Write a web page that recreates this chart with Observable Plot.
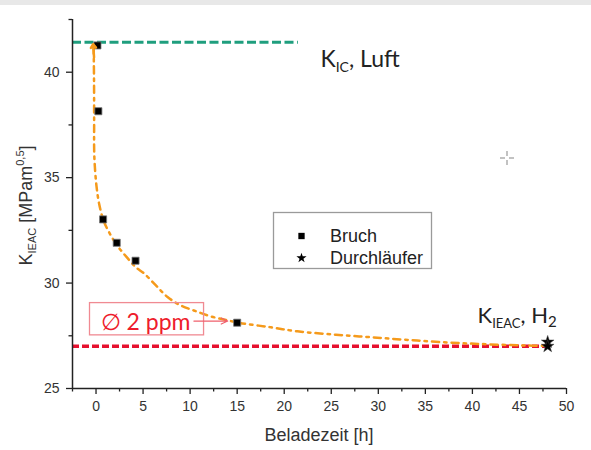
<!DOCTYPE html>
<html><head><meta charset="utf-8">
<script src="https://cdn.jsdelivr.net/npm/d3@7"></script>
<script src="https://cdn.jsdelivr.net/npm/@observablehq/plot@0.6"></script>
<style>
body{margin:0;background:#fff;}
#topbar{height:5px;background:#e8e8e8;}
#wrap{position:relative;width:591px;height:445px;}
</style></head><body>
<div id="topbar"></div><div id="wrap"></div>
<script>
// Data
const bruchX = [0.15, 0.25, 0.75, 2.2, 4.2, 15.0];
const bruchY = [41.27, 38.15, 33.02, 31.91, 31.06, 28.12];
const durchX = [48, 48];
const durchY = [27.2, 27.0];
const fitX = [-0.25, -0.21, -0.2, -0.18, 0.05, 0.34, 0.82, 1.56, 2.3, 3.26, 4.2, 5.07, 6.34, 7.6, 9.0, 10.4, 12.2, 14.0, 15.3, 18.6, 21.4, 25.5, 29.2, 32.9, 36.6, 40.9, 45.5, 48.0];
const fitY = [41.2, 39.5, 37.7, 36.0, 34.6, 33.74, 32.94, 32.27, 31.75, 31.23, 30.76, 30.47, 29.9, 29.34, 28.94, 28.7, 28.42, 28.23, 28.11, 27.9, 27.71, 27.55, 27.43, 27.31, 27.2, 27.11, 27.04, 27.02];
const kicLevel = [41.42];
const kicRange = [-2.5, 21.5];
const kieacLevel = [27.0];
const kieacRange = [-2.5, 48];
const xTicks = [0, 5, 10, 15, 20, 25, 30, 35, 40, 45, 50];
const xMinor = [-2.5, 2.5, 7.5, 12.5, 17.5, 22.5, 27.5, 32.5, 37.5, 42.5, 47.5];
const yTicks = [25, 30, 35, 40];
const yMinor = [27.5, 32.5, 37.5, 42.5];
const legendLabels = ["Bruch", "Durchläufer"];
const xLabel = "Beladezeit [h]";
// annotation anchors (data units)
const upArrow = {x1: -0.21, y1: 40.7, x2: -0.3, y2: 41.33};
const ppmArrow = {x1: 10.4, y1: 28.2, x2: 14.0, y2: 28.2};
const ppmBox = {x1: -0.64, x2: 11.48, y1: 27.52, y2: 29.05};
const ppmText = {x: 0.55, y: 27.75, text: "∅ 2 ppm"};
const kicText = {x: 23.9, y: 40.2};
const kieacText = {x: 40.6, y: 28.1};

const bruch = bruchX.map((x, i) => ({x, y: bruchY[i]}));
const durch = durchX.map((x, i) => ({x, y: durchY[i]}));
const fit = fitX.map((x, i) => ({x, y: fitY[i]}));

const W = 591, H = 445;
const plot = Plot.plot({
  width: W, height: H,
  marginLeft: 72, marginRight: 25, marginTop: 14, marginBottom: 62,
  style: {fontFamily: "'Liberation Sans', Arial, sans-serif", background: "transparent"},
  x: {domain: [-2.5, 50]},
  y: {domain: [25, 42.5]},
  marks: [
    Plot.ruleY(kicLevel, {x1: kicRange[0], x2: kicRange[1], stroke: "#1f9e7e", strokeWidth: 3, strokeDasharray: "9,3.5"}),
    Plot.ruleY(kieacLevel, {x1: kieacRange[0], x2: kieacRange[1], stroke: "#e6102e", strokeWidth: 3.5, strokeDasharray: "7,3"}),
    Plot.line(fit, {x: "x", y: "y", stroke: "#f59a1b", strokeWidth: 2.5, strokeDasharray: "7,5,2.5,5", curve: "catmull-rom"}),
    Plot.dot(bruch, {x: "x", y: "y", symbol: "square", r: 4, fill: "#000", stroke: "#777", strokeWidth: 0.8}),
    Plot.dot(durch, {x: "x", y: "y", symbol: "star", r: 4, fill: "#000", stroke: "#444", strokeWidth: 0.5}),
    Plot.arrow([upArrow], {x1: "x1", y1: "y1", x2: "x2", y2: "y2", stroke: "#f59a1b", strokeWidth: 2.5, headLength: 11, headAngle: 70}),
    Plot.rect([ppmBox], {x1: "x1", x2: "x2", y1: "y1", y2: "y2", fill: "none", stroke: "#f08a92", strokeWidth: 1.3}),
    Plot.arrow([ppmArrow], {x1: "x1", y1: "y1", x2: "x2", y2: "y2", stroke: "#f0606c", strokeWidth: 1.2, headLength: 9, headAngle: 50}),
    Plot.ruleX([-2.5], {y1: 25, y2: 42.5, stroke: "#222", strokeWidth: 1.5}),
    Plot.ruleY([25], {x1: -2.5, x2: 50, stroke: "#222", strokeWidth: 1.5}),
    Plot.axisX(xTicks, {tickSize: 6, tickPadding: 7, fontSize: 14, color: "#333", stroke: "#222", strokeWidth: 1.3, label: null}),
    Plot.axisX(xMinor, {tickSize: 3.5, tickFormat: () => "", stroke: "#222", strokeWidth: 1.3, label: null}),
    Plot.axisY(yTicks, {tickSize: 6, tickPadding: 7, fontSize: 14, color: "#333", stroke: "#222", strokeWidth: 1.3, label: null}),
    Plot.axisY(yMinor, {tickSize: 3.5, tickFormat: () => "", stroke: "#222", strokeWidth: 1.3, label: null})
  ]
});
document.getElementById("wrap").appendChild(plot);

const sx = plot.scale("x"), sy = plot.scale("y");
const svg = d3.select(plot);

// x axis label
svg.append("text").attr("x", (sx.apply(-2.5) + sx.apply(50)) / 2).attr("y", 436)
  .attr("text-anchor", "middle").attr("font-size", 18).attr("fill", "#333").text(xLabel);

// y axis label
const yl = svg.append("text")
  .attr("transform", `translate(32,${(sy.apply(25) + sy.apply(42.5)) / 2 + 2}) rotate(-90)`)
  .attr("text-anchor", "middle").attr("font-size", 18).attr("fill", "#333");
yl.append("tspan").text("K");
yl.append("tspan").attr("font-size", 11).attr("dy", 4).text("IEAC");
yl.append("tspan").attr("dy", -4).text(" [MPam");
yl.append("tspan").attr("font-size", 11).attr("dy", -8).text("0,5");
yl.append("tspan").attr("dy", 8).text("]");

// annotations
const k1 = svg.append("text").attr("x", sx.apply(kicText.x)).attr("y", sy.apply(kicText.y))
  .attr("text-anchor", "start")
  .attr("font-family", "Lato, sans-serif").attr("font-size", 23).attr("fill", "#222");
k1.append("tspan").text("K");
k1.append("tspan").attr("font-size", 14).attr("dy", 5).text("IC");
k1.append("tspan").attr("dy", -5).text(", Luft");

const k2 = svg.append("text").attr("x", sx.apply(kieacText.x)).attr("y", sy.apply(kieacText.y))
  .attr("text-anchor", "start")
  .attr("font-family", "Lato, sans-serif").attr("font-size", 22).attr("fill", "#222");
k2.append("tspan").text("K");
k2.append("tspan").attr("font-size", 13).attr("dy", 5).text("IEAC");
k2.append("tspan").attr("dy", -5).text(", H");
k2.append("tspan").attr("font-size", 15).attr("dy", 4).text("2");

svg.append("text").attr("x", sx.apply(ppmText.x)).attr("y", sy.apply(ppmText.y))
  .attr("text-anchor", "start")
  .attr("font-family", "Lato, sans-serif").attr("font-size", 23).attr("fill", "#ee1c2c").text(ppmText.text);

// legend
const lg = svg.append("g").attr("font-size", 18).attr("fill", "#222").attr("text-anchor", "start");
lg.append("rect").attr("x", 273.5).attr("y", 207.5).attr("width", 158).attr("height", 56)
  .attr("fill", "#fff").attr("stroke", "#9a9a9a").attr("stroke-width", 1.3);
lg.append("path").attr("d", d3.symbol(d3.symbolSquare, 40)()).attr("transform", "translate(301.5,231)").attr("fill", "#000");
lg.append("path").attr("d", d3.symbol(d3.symbolStar, 32)()).attr("transform", "translate(301.5,253)").attr("fill", "#000");
lg.append("text").attr("x", 330).attr("y", 237).text(legendLabels[0]);
lg.append("text").attr("x", 330).attr("y", 259).text(legendLabels[1]);

// cursor crosshair artifact
const ch = svg.append("g").attr("stroke", "#999").attr("stroke-width", 1.2);
[[500,153,505,153],[509,153,514,153],[507,146,507,151],[507,155,507,160]].forEach(([a,b,c,d]) =>
  ch.append("line").attr("x1", a).attr("y1", b).attr("x2", c).attr("y2", d));
</script>
</body></html>
